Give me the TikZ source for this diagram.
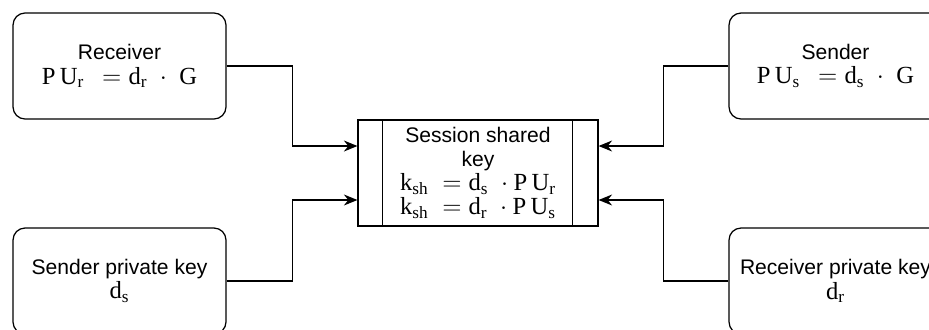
\documentclass[tikz,border=0pt]{standalone}
\usepackage{fontspec}
\setmainfont{Liberation Sans}
\setmathrm{Liberation Serif}
\usetikzlibrary{arrows.meta}

\newcommand{\fml}[1]{{\fontsize{14}{13}\selectfont$#1$}}

\tikzset{
  party/.style={draw, rounded corners=0.24cm, minimum width=4.26cm, minimum height=2.12cm, align=center, line width=0.7pt},
  keybox/.style={draw, minimum width=4.8cm, minimum height=2.12cm, align=center, line width=0.7pt, font=\fontsize{12}{13.6}\selectfont},
  conn/.style={-{Stealth[length=0.27cm,width=0.22cm]}, line width=0.7pt},
}

\begin{document}
\begin{tikzpicture}[x=0.02cm, y=-0.02cm, font=\fontsize{12}{14}\selectfont]
\useasboundingbox (0,0) rectangle (929,329);
\clip (0,0) rectangle (929,329);

\node[party] (recv) at (119.5,66) {Receiver\\ \fml{\mathrm{P\,U_r}\ \,= \mathrm{d_r}\ \cdot\ \mathrm{G}}};
\node[party] (sprv) at (119.5,281) {Sender private key\\ \fml{\mathrm{d_s}}};
\node[party] (send) at (835.5,66) {Sender\\ \fml{\mathrm{P\,U_s}\ \,= \mathrm{d_s}\ \cdot\ \mathrm{G}}};
\node[party] (rprv) at (835.5,281) {Receiver private key\\ \fml{\mathrm{d_r}}};

\node[keybox] (key) at (478,173) {Session shared\\ key\\ \fml{\mathrm{k_{sh}}\ = \mathrm{d_s}\ \cdot \mathrm{P\,U_r}}\\ \fml{\mathrm{k_{sh}}\ = \mathrm{d_r}\ \cdot \mathrm{P\,U_s}}};
\draw[line width=0.7pt] ([xshift=0.5cm]key.north west) -- ([xshift=0.5cm]key.south west);
\draw[line width=0.7pt] ([xshift=-0.52cm]key.north east) -- ([xshift=-0.52cm]key.south east);

\draw[conn] (recv.east) -- ++(66,0) |- ([yshift=0.54cm]key.west);
\draw[conn] (sprv.east) -- ++(66,0) |- ([yshift=-0.54cm]key.west);
\draw[conn] (send.west) -- ++(-65,0) |- ([yshift=0.54cm]key.east);
\draw[conn] (rprv.west) -- ++(-65,0) |- ([yshift=-0.54cm]key.east);
\end{tikzpicture}
\end{document}
